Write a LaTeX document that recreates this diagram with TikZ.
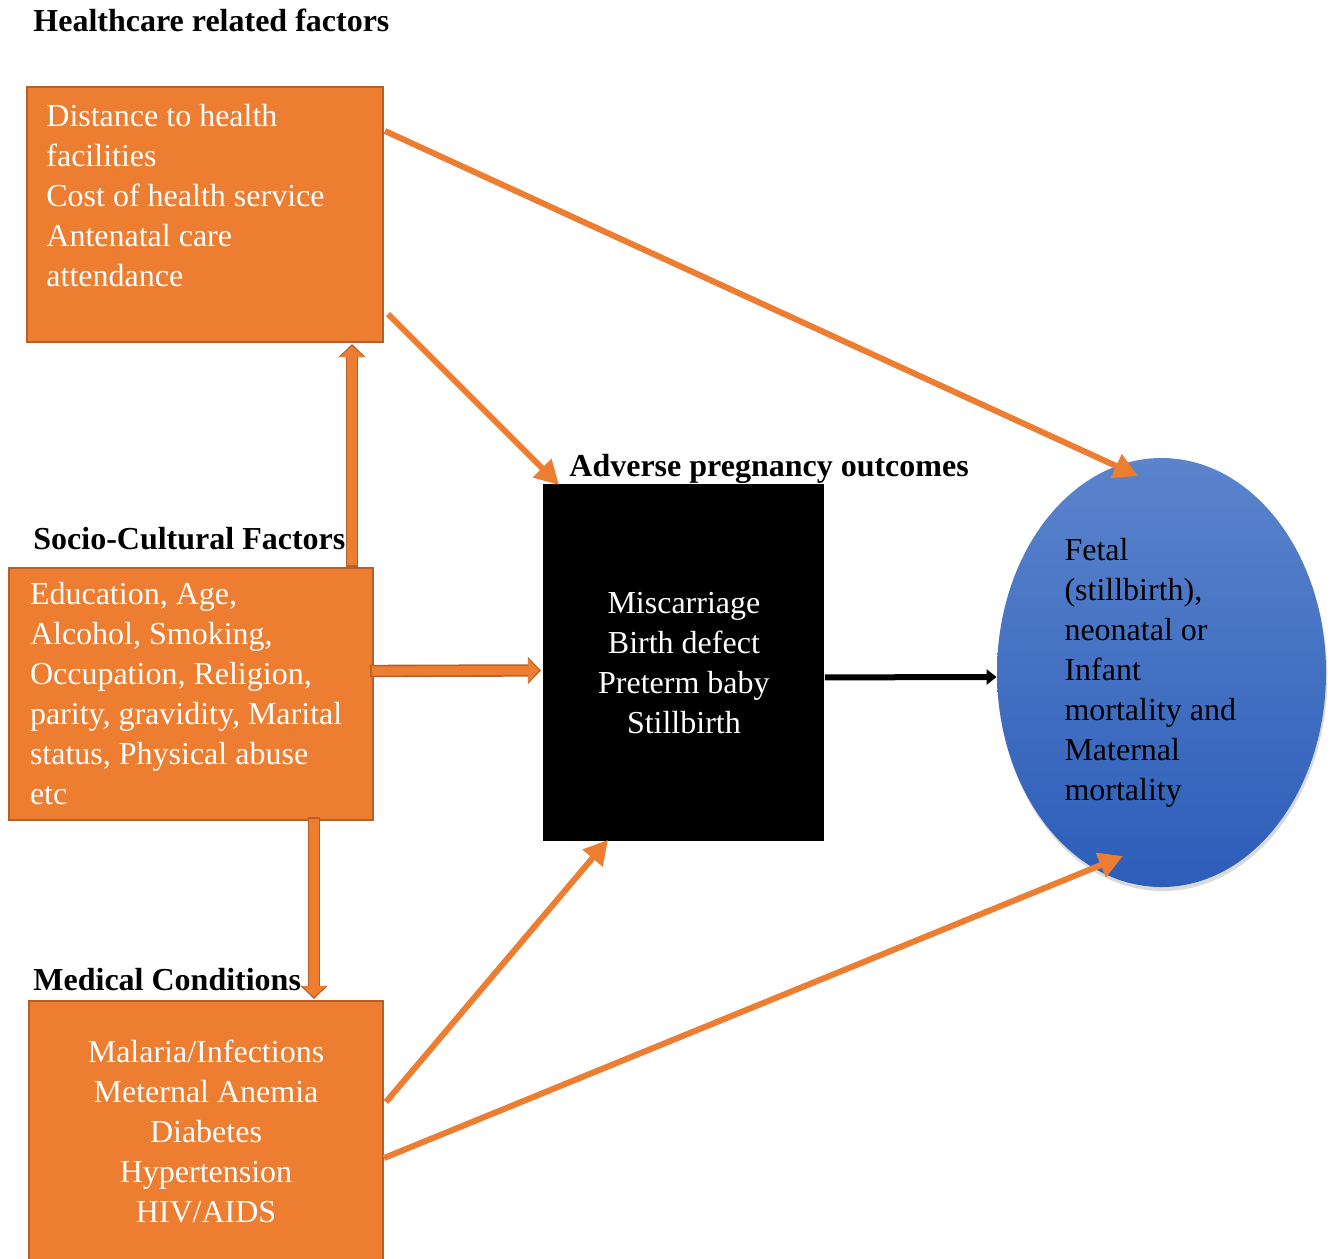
\documentclass[tikz,border=0pt]{standalone}
\usepackage{fontspec}
\setmainfont{Liberation Serif}
\usepackage{tikz}
\usetikzlibrary{
  shapes.geometric,
  arrows.meta,
  positioning,
  calc,
  shadows
}
\usepackage{xcolor}
\definecolor{boxorange}{HTML}{ED7D31}
\definecolor{edgeorange}{HTML}{B5602A}
\definecolor{ovaltop}{HTML}{5B84CC}
\definecolor{ovalbottom}{HTML}{2C5DB9}
\newcommand{\diagfont}{\fontsize{16pt}{20pt}\selectfont}
\tikzset{
  factorbox/.style={
    rectangle, draw=edgeorange, fill=boxorange, line width=1pt,
    text=white, inner sep=0pt
  },
  heading/.style={font=\diagfont\bfseries, anchor=base west, inner sep=0pt},
  hollow/.style={
    draw=boxorange, line width=4.6pt, shorten >=1pt, shorten <=0.8pt,
    -{Triangle[width=11.4pt, length=5.4pt]},
    preaction={draw=edgeorange, line width=6.2pt, shorten >=0pt, shorten <=0pt,
      -{Triangle[width=13.2pt, length=6.6pt]}}
  },
  arrow/.style={draw=boxorange, line width=3pt, -{Triangle[width=12.5pt, length=12pt]}},
  blackarrow/.style={draw=black, line width=3pt, -{Triangle[width=7.5pt, length=5pt]}},
}

\begin{document}
\begin{tikzpicture}[x=0.5pt, y=-0.5pt, font=\diagfont]
\clip (0,0) rectangle (1336,1258);

% Factor boxes
\node[factorbox, minimum width=178pt, minimum height=127.5pt, anchor=north west] (health) at (26,86) {};
\node[text=white, align=flush left, anchor=north west, inner sep=0pt] (healthtxt) at (46,104)
  {Distance to health\\facilities\\Cost of health service\\Antenatal care\\attendance};
\node[factorbox, minimum width=182pt, minimum height=126pt, anchor=north west,
  text width=161pt, align=flush left] (socio) at (8,567)
  {Education, Age,\\Alcohol, Smoking,\\Occupation, Religion,\\parity, gravidity, Marital\\status, Physical abuse\\etc};
\node[factorbox, minimum width=177pt, minimum height=130pt, anchor=north west,
  align=center] (medical) at (28,1000)
  {Malaria/Infections\\Meternal Anemia\\Diabetes\\Hypertension\\HIV/AIDS};

% Outcomes
\node[rectangle, fill=black, text=white, minimum width=140.5pt, minimum height=178.5pt,
  anchor=north west, align=center] (adverse) at (543,484)
  {Miscarriage\\Birth defect\\Preterm baby\\Stillbirth};
\node[ellipse, top color=ovaltop, bottom color=ovalbottom, draw=none, inner sep=0pt,
  minimum width=164.5pt, minimum height=214.5pt, text width=97pt, align=flush left,
  drop shadow={opacity=0.3, shadow xshift=0.6pt, shadow yshift=-2pt}] (fate) at (1161.5,672.5)
  {Fetal\\(stillbirth),\\neonatal or\\Infant\\mortality and\\Maternal\\mortality};

% Headings
\node[heading] (healthhead) at (33,32) {Healthcare related factors};
\node[heading] (sociohead) at (33,549) {Socio-Cultural Factors};
\node[heading] (medhead) at (33,990) {Medical Conditions};
\node[heading] (advhead) at (569,476) {Adverse pregnancy outcomes};

% Links between factors
\draw[hollow] ($(socio.north west)+(344,0)$) -- ($(health.south west)+(326,1)$);
\draw[hollow] ($(socio.east)+(-4,-23)$) -- ($(adverse.west)+(-2,7.5)$);
\draw[hollow] ($(socio.south west)+(306,-4)$) -- ($(medical.north west)+(286,-1)$);

% Links to outcomes
\draw[arrow] ($(health.north east)+(1,45)$) -- ($(fate.center)+(-23.5,-196.5)$);
\draw[arrow] ($(health.south east)+(4,-29)$) -- ($(adverse.north west)+(16,1)$);
\draw[arrow] ($(medical.north west)+(358,102)$) -- ($(adverse.south west)+(65,-2)$);
\draw[arrow] ($(medical.north west)+(356,158)$) -- ($(fate.center)+(-38.5,183.5)$);
\draw[blackarrow] ($(adverse.east)+(0,14.5)$) -- ($(fate.west)+(0,4.5)$);

\end{tikzpicture}
\end{document}
